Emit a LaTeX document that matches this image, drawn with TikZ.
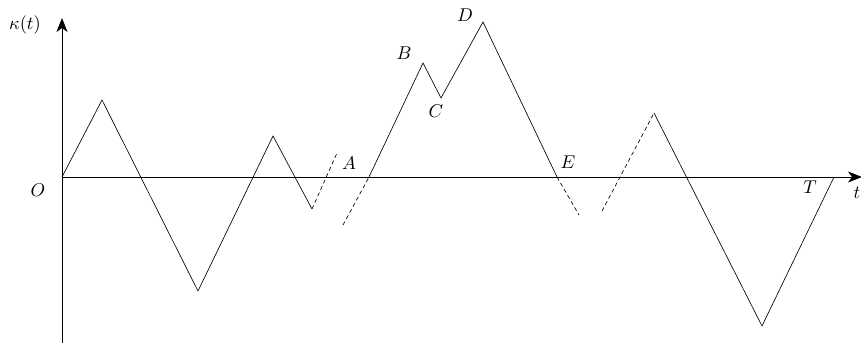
\documentclass[tikz,border=0pt]{standalone}
\usetikzlibrary{arrows.meta}
\begin{document}
\begin{tikzpicture}[x=1pt,y=1pt,
  curve/.style={line width=0.65pt},
  dsh/.style={line width=0.65pt,dash pattern=on 4pt off 3pt},
  axis/.style={line width=0.75pt,-{Stealth[length=14pt,width=11pt,inset=4pt]}},
  lbl/.style={inner sep=0pt,scale=1.85}]
\useasboundingbox (0,0) rectangle (861,-344);
% axes
\coordinate (O) at (62,-177);
\coordinate (xend) at (862,-177);
\coordinate (ybot) at (62,-343);
\coordinate (yend) at (62,-18);
\draw[axis] (O) -- (xend);
\draw[axis] (ybot) -- (yend);
% path points
\coordinate (p1) at (102,-100);
\coordinate (p2) at (198,-291);
\coordinate (p3) at (273,-136);
\coordinate (p4) at (312,-209);
\coordinate (q1) at (337,-153);
\coordinate (q2) at (343,-225);
\coordinate (a0) at (369,-177);
\coordinate (b) at (423,-63);
\coordinate (c) at (441,-98);
\coordinate (d) at (483,-22);
\coordinate (e0) at (557,-177);
\coordinate (r1) at (579,-215);
\coordinate (r2) at (602,-211);
\coordinate (s) at (654,-113);
\coordinate (u) at (762,-326);
\coordinate (tp) at (834,-177);
\draw[curve] (O) -- (p1) -- (p2) -- (p3) -- (p4);
\draw[dsh] (p4) -- (q1);
\draw[dsh] (q2) -- (a0);
\draw[curve] (a0) -- (b) -- (c) -- (d) -- (e0);
\draw[dsh] (e0) -- (r1);
\draw[dsh] (r2) -- (s);
\draw[curve] (s) -- (u) -- (tp);
% labels
\node[lbl] (lk) at (25,-25) {$\kappa(t)$};
\node[lbl] (lO) at (38,-190) {$O$};
\node[lbl] (lA) at (349,-163) {$A$};
\node[lbl] (lB) at (404,-53) {$B$};
\node[lbl] (lC) at (436,-111) {$C$};
\node[lbl] (lD) at (465,-15) {$D$};
\node[lbl] (lE) at (568,-162) {$E$};
\node[lbl] (lT) at (810,-187) {$T$};
\node[lbl] (lt) at (857,-193) {$t$};
\end{tikzpicture}
\end{document}
